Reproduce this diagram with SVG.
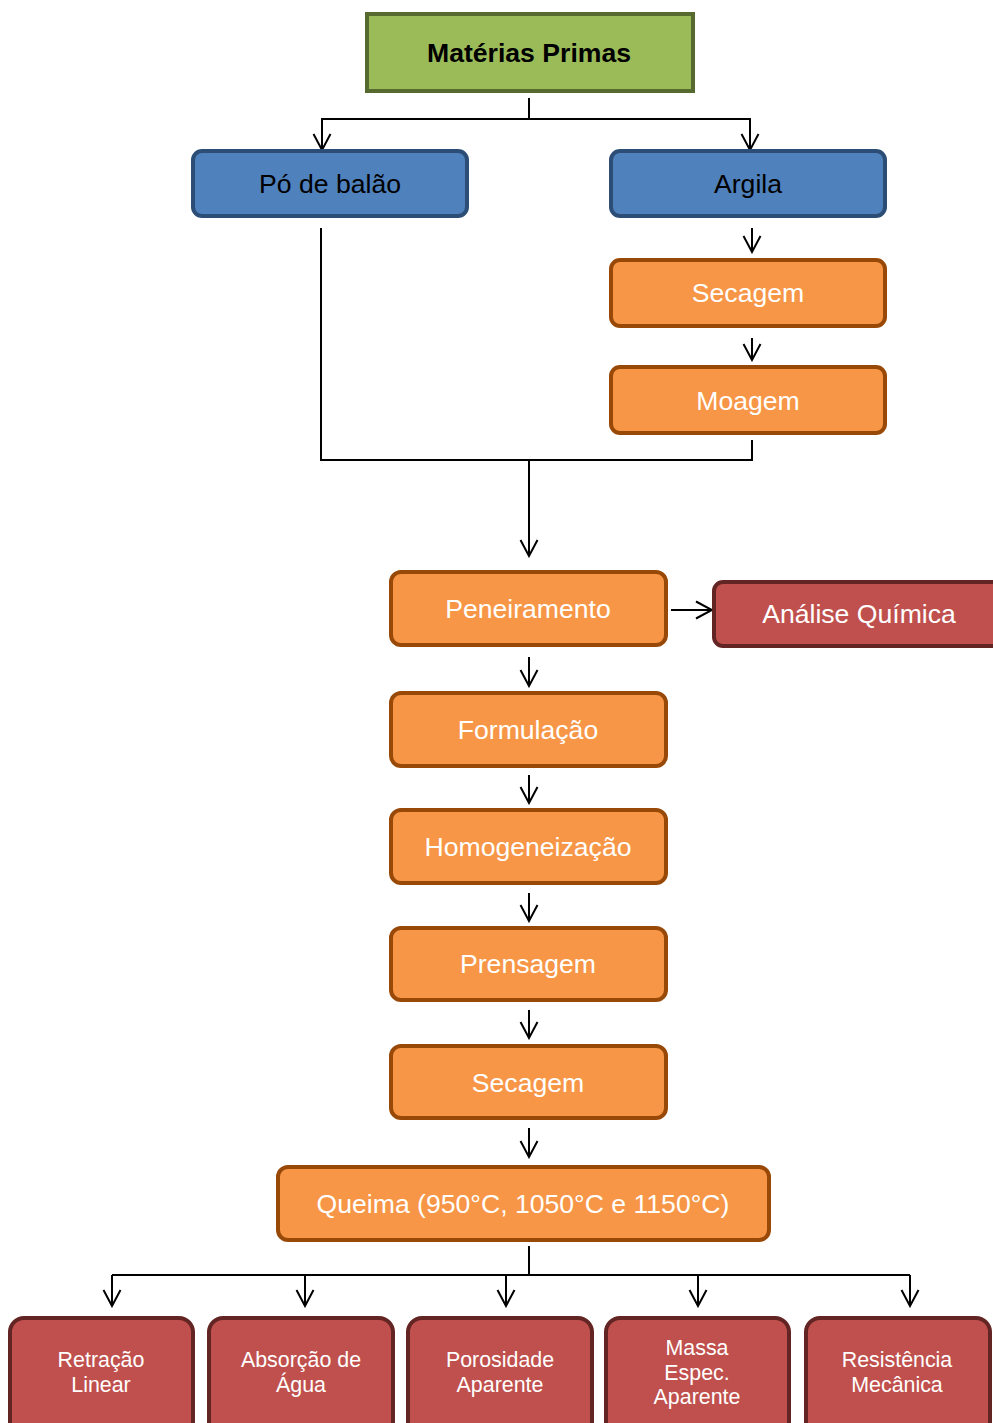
<svg xmlns="http://www.w3.org/2000/svg" width="993" height="1423" viewBox="0 0 993 1423">
<defs>
<marker id="ar" markerUnits="userSpaceOnUse" markerWidth="20" markerHeight="20" viewBox="0 0 20 20" refX="18" refY="10" orient="auto">
<path d="M2,1.5 L18,10 L2,18.5" fill="none" stroke="#000" stroke-width="2"/>
</marker>
<style>
.t{font-family:"Liberation Sans",Arial,sans-serif;font-size:26.6px;text-anchor:middle}
.s{font-family:"Liberation Sans",Arial,sans-serif;font-size:21.4px;text-anchor:middle;fill:#fff}
.blue{fill:#4f81bd;stroke:#2c4d75;stroke-width:4}
.org{fill:#f79646;stroke:#984807;stroke-width:4}
.red{fill:#c0504d;stroke:#632523;stroke-width:4}
.c{fill:none;stroke:#000;stroke-width:2}
.a{fill:none;stroke:#000;stroke-width:2;marker-end:url(#ar)}
</style>
</defs>
<rect width="993" height="1423" fill="#fff"/>
<g id="connectors">
<path class="c" d="M529,98 V119 M321,119 H751"/>
<path class="a" d="M322,119 V150"/>
<path class="a" d="M750,119 V150"/>
<path class="a" d="M752,228 V252"/>
<path class="a" d="M752,338 V360"/>
<path class="c" d="M321,228 V460 H752 V440"/>
<path class="a" d="M529,460 V556"/>
<path class="a" d="M671,610 H712"/>
<path class="a" d="M529,657 V686"/>
<path class="a" d="M529,775 V803"/>
<path class="a" d="M529,893 V921"/>
<path class="a" d="M529,1010 V1038"/>
<path class="a" d="M529,1128 V1157"/>
<path class="c" d="M529,1246 V1275 M112,1275 H910"/>
<path class="a" d="M112,1275 V1306"/>
<path class="a" d="M305,1275 V1306"/>
<path class="a" d="M506,1275 V1306"/>
<path class="a" d="M698,1275 V1306"/>
<path class="a" d="M910,1275 V1306"/>
</g>
<g id="materias"><rect x="367" y="14" width="326" height="77" fill="#9bbb59" stroke="#56692e" stroke-width="4"/><text class="t" x="529" y="62" font-weight="bold">Matérias Primas</text></g>
<g id="po"><rect class="blue" x="193" y="151" width="274" height="65" rx="9"/><text class="t" x="330" y="193">Pó de balão</text></g>
<g id="argila"><rect class="blue" x="611" y="151" width="274" height="65" rx="9"/><text class="t" x="748" y="193">Argila</text></g>
<g id="secagem1"><rect class="org" x="611" y="260" width="274" height="66" rx="9"/><text class="t" x="748" y="302" fill="#fff">Secagem</text></g>
<g id="moagem"><rect class="org" x="611" y="367" width="274" height="66" rx="9"/><text class="t" x="748" y="410" fill="#fff">Moagem</text></g>
<g id="peneiramento"><rect class="org" x="391" y="572" width="275" height="73" rx="10"/><text class="t" x="528" y="618" fill="#fff">Peneiramento</text></g>
<g id="analise"><rect class="red" x="714" y="582" width="300" height="64" rx="9"/><text class="t" x="859" y="623" fill="#fff">Análise Química</text></g>
<g id="formulacao"><rect class="org" x="391" y="693" width="275" height="73" rx="10"/><text class="t" x="528" y="739" fill="#fff">Formulação</text></g>
<g id="homogeneizacao"><rect class="org" x="391" y="810" width="275" height="73" rx="10"/><text class="t" x="528" y="856" fill="#fff">Homogeneização</text></g>
<g id="prensagem"><rect class="org" x="391" y="928" width="275" height="72" rx="10"/><text class="t" x="528" y="973" fill="#fff">Prensagem</text></g>
<g id="secagem2"><rect class="org" x="391" y="1046" width="275" height="72" rx="10"/><text class="t" x="528" y="1092" fill="#fff">Secagem</text></g>
<g id="queima"><rect class="org" x="278" y="1167" width="491" height="73" rx="10"/><text class="t" x="523" y="1213" fill="#fff">Queima (950°C, 1050°C e 1150°C)</text></g>
<g id="retracao"><rect class="red" x="10" y="1318" width="183" height="120" rx="14"/><text class="s" x="101" y="1367">Retração</text><text class="s" x="101" y="1392">Linear</text></g>
<g id="absorcao"><rect class="red" x="209" y="1318" width="184" height="120" rx="14"/><text class="s" x="301" y="1367">Absorção de</text><text class="s" x="301" y="1392">Água</text></g>
<g id="porosidade"><rect class="red" x="408" y="1318" width="184" height="120" rx="14"/><text class="s" x="500" y="1367">Porosidade</text><text class="s" x="500" y="1392">Aparente</text></g>
<g id="massa"><rect class="red" x="606" y="1318" width="183" height="120" rx="14"/><text class="s" x="697" y="1355">Massa</text><text class="s" x="697" y="1380">Espec.</text><text class="s" x="697" y="1404">Aparente</text></g>
<g id="resistencia"><rect class="red" x="806" y="1318" width="184" height="120" rx="14"/><text class="s" x="897" y="1367">Resistência</text><text class="s" x="897" y="1392">Mecânica</text></g>
</svg>
